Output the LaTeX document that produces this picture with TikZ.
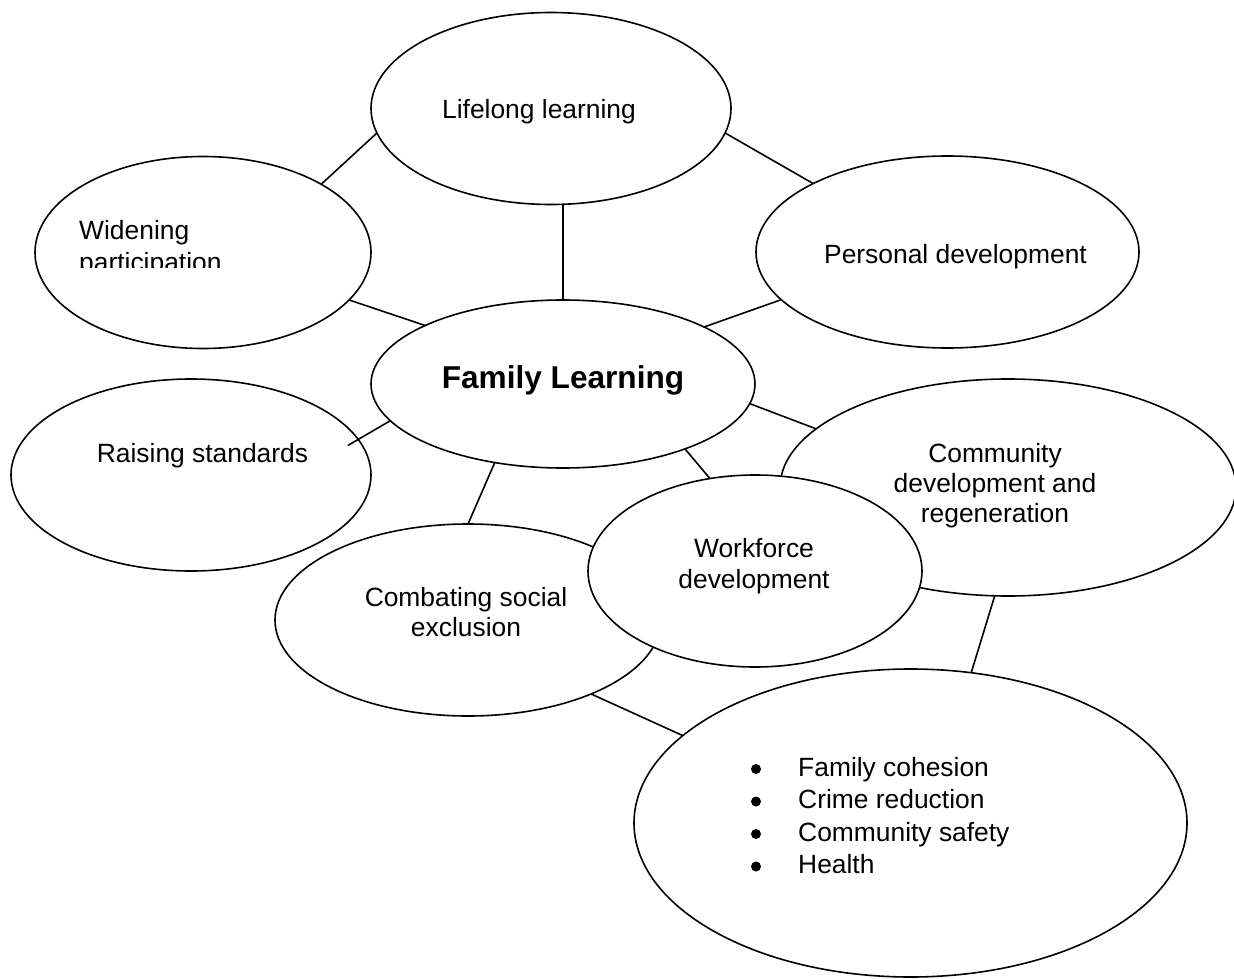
\documentclass[tikz,border=0pt]{standalone}
\usepackage{fontspec}
\setmainfont{Liberation Sans}
\usetikzlibrary{shapes.geometric}
\begin{document}
\begin{tikzpicture}[x=1pt,y=-1pt,
  bubble/.style={ellipse, draw, line width=1.6pt, fill=white, inner sep=0pt, outer sep=0pt},
  link/.style={line width=1.6pt},
  lbl/.style={anchor=base, inner sep=0pt, font=\fontsize{26.4}{31}\selectfont},
  bulletdot/.style={circle, fill=black, inner sep=0pt, minimum size=10pt},
]
\useasboundingbox (0,0) rectangle (1234,979);

% bubbles (later ones lie on top of earlier ones)
\node[bubble, minimum width=360pt, minimum height=192pt] (life) at (551,108.5) {};
\node[bubble, minimum width=336pt, minimum height=192pt] (wide) at (203,252.5) {};
\node[bubble, minimum width=383pt, minimum height=192pt] (pers) at (947.5,252) {};
\node[bubble, minimum width=384pt, minimum height=168pt] (fam) at (563,384) {};
\node[bubble, minimum width=360pt, minimum height=192pt] (rais) at (191,475) {};
\node[bubble, minimum width=456pt, minimum height=217pt] (comm) at (1008,487.5) {};
\node[bubble, minimum width=386pt, minimum height=192pt] (comb) at (468,620) {};
\node[bubble, minimum width=334pt, minimum height=192pt] (work) at (755,571) {};
\node[bubble, minimum width=553pt, minimum height=308pt] (bull) at (910.5,823) {};

% connectors
\draw[link] (life.188) -- (wide.30.8);
\draw[link] (life.-8) -- (pers.153.7);
\draw[link] (fam.north) -- (fam.north |- life.south);
\draw[link] (wide.-18.7) -- (fam.157.7);
\draw[link] (fam.22.6) -- (pers.196.2);
\draw[link, shorten >=-12pt] (fam.192.4) -- (rais.12);
\draw[link] (fam.-6) -- (comm.163.5);
\draw[link] (fam.-28.8) -- (work.116);
\draw[link] (fam.229.4) -- (comb.north);
\draw[link] (comm.263.2) -- (bull.68.7);
\draw[link] (comb.-31) -- (bull.159.7);

% labels
\node[lbl] (tlife) at (539,119) {Lifelong learning};
\begin{scope}
  \clip (60,190) rectangle (330,267);
  \node[lbl, anchor=base west] (twide1) at (79,239) {Widening};
  \node[lbl, anchor=base west] (twide2) at (79,271) {participation};
\end{scope}
\node[lbl] (tpers) at (955.5,263) {Personal development};
\node[lbl, font=\bfseries\fontsize{31.6}{38}\selectfont] (tfam) at (563,388) {Family Learning};
\node[lbl] (trais) at (202.5,462) {Raising standards};
\node[lbl] (tcomm1) at (995,462) {Community};
\node[lbl] (tcomm2) at (995,492) {development and};
\node[lbl] (tcomm3) at (995,522) {regeneration};
\node[lbl] (twork1) at (754,557) {Workforce};
\node[lbl] (twork2) at (754,588) {development};
\node[lbl] (tcomb1) at (466,606) {Combating social};
\node[lbl] (tcomb2) at (466,636) {exclusion};

% bulleted list
\foreach \txt [count=\i] in {Family cohesion, Crime reduction, Community safety, Health} {
  \node[bulletdot] (dot\i) at (756,{769+32.5*(\i-1)}) {};
  \node[lbl, anchor=base west] (item\i) at (798,{776+32.5*(\i-1)}) {\txt};
}
\end{tikzpicture}
\end{document}
